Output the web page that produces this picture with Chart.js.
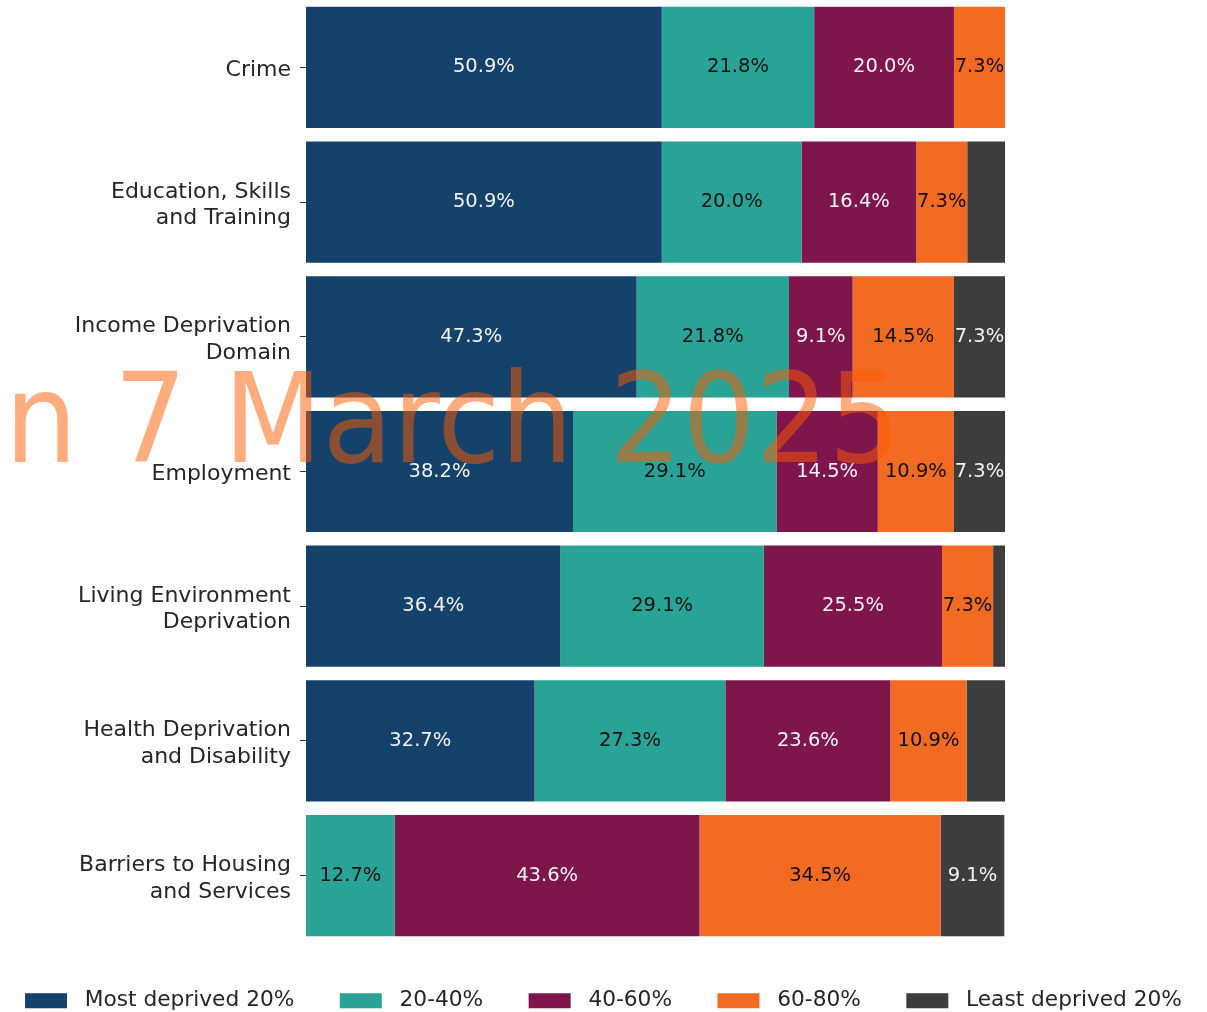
<!DOCTYPE html>
<html>
<head>
<meta charset="utf-8">
<script src="https://cdn.jsdelivr.net/npm/chart.js@4/dist/chart.umd.min.js"></script>
<style>
html,body{margin:0;padding:0;background:#fff;}
#wrap{width:1207px;height:1012px;}
</style>
</head>
<body>
<div id="wrap"><canvas id="c" width="1207" height="1012"></canvas></div>
<script>
const categories = [
  'Crime',
  ['Education, Skills', 'and Training'],
  ['Income Deprivation', 'Domain'],
  'Employment',
  ['Living Environment', 'Deprivation'],
  ['Health Deprivation', 'and Disability'],
  ['Barriers to Housing', 'and Services']
];
const seriesNames = ['Most deprived 20%', '20-40%', '40-60%', '60-80%', 'Least deprived 20%'];
const mostDeprived = [50.9, 50.9, 47.3, 38.2, 36.4, 32.7, 0];
const q20to40 = [21.8, 20.0, 21.8, 29.1, 29.1, 27.3, 12.7];
const q40to60 = [20.0, 16.4, 9.1, 14.5, 25.5, 23.6, 43.6];
const q60to80 = [7.3, 7.3, 14.5, 10.9, 7.3, 10.9, 34.5];
const leastDeprived = [0, 5.4, 7.3, 7.3, 1.8, 5.5, 9.1];
const watermarkText = 'on 7 March 2025';

const colors = ['#14426b', '#29a396', '#7e164b', '#f36b23', '#3d3d3d'];
const labelColors = ['#f2f2f2', '#111111', '#f2f2f2', '#111111', '#f2f2f2'];
const seriesValues = [mostDeprived, q20to40, q40to60, q60to80, leastDeprived];

Chart.defaults.font.family = '"DejaVu Sans", sans-serif';

const labelPlugin = {
  id: 'segLabels',
  afterDatasetsDraw(chart) {
    const ctx = chart.ctx;
    ctx.save();
    ctx.font = '19.5px "DejaVu Sans"';
    ctx.textAlign = 'center';
    ctx.textBaseline = 'middle';
    chart.data.datasets.forEach((ds, di) => {
      const meta = chart.getDatasetMeta(di);
      meta.data.forEach((el, i) => {
        const v = ds.data[i];
        if (v >= 6) {
          ctx.fillStyle = labelColors[di];
          ctx.fillText(v.toFixed(1) + '%', (el.x + el.base) / 2, el.y);
        }
      });
    });
    ctx.restore();
  }
};

const watermarkPlugin = {
  id: 'watermark',
  afterDraw(chart) {
    const ctx = chart.ctx;
    ctx.save();
    ctx.globalAlpha = 0.5;
    ctx.fillStyle = '#ff5a00';
    ctx.font = '124px "DejaVu Sans"';
    ctx.textBaseline = 'alphabetic';
    ctx.textAlign = 'left';
    ctx.translate(114, 462);
    ctx.scale(0.925, 1);
    const pre = ctx.measureText('on ').width;
    ctx.fillText(watermarkText, -pre, 0);
    ctx.restore();
  }
};

const legendNames = seriesNames.map((n, i) => ' ' + n + (i < seriesNames.length - 1 ? '     ' : ''));

new Chart(document.getElementById('c'), {
  type: 'bar',
  data: {
    labels: categories,
    datasets: seriesValues.map((vals, i) => ({
      label: legendNames[i],
      data: vals,
      backgroundColor: colors[i],
      borderWidth: 0,
      barPercentage: 0.9,
      categoryPercentage: 1.0
    }))
  },
  options: {
    indexAxis: 'y',
    responsive: false,
    animation: false,
    devicePixelRatio: 1,
    layout: { padding: 0 },
    scales: {
      x: {
        stacked: true,
        min: 0,
        max: 100,
        display: false
      },
      y: {
        stacked: true,
        position: 'left',
        border: { display: false },
        grid: { display: true, drawOnChartArea: false, drawTicks: true, tickLength: 6, tickColor: '#333333', offset: false },
        ticks: { color: '#262626', padding: 9, labelOffset: 3, font: { size: 22, lineHeight: 1.2 } },
        afterFit(s) { s.width = 306; s.paddingTop = 0; s.paddingBottom = 0; }
      },
      yR: {
        type: 'category',
        position: 'right',
        display: true,
        border: { display: false },
        grid: { display: false },
        ticks: { display: false },
        afterFit(s) { s.width = 202; s.paddingTop = 0; s.paddingBottom = 0; }
      }
    },
    plugins: {
      legend: {
        position: 'bottom',
        maxHeight: 69,
        title: { display: true, text: '', font: { size: 10, lineHeight: 1 }, padding: { top: 12, bottom: 14 } },
        labels: {
          boxWidth: 42,
          boxHeight: 15,
          padding: 11,
          color: '#262626',
          font: { size: 21.7 }
        }
      },
      tooltip: { enabled: false }
    }
  },
  plugins: [labelPlugin, watermarkPlugin]
});
</script>
</body>
</html>
